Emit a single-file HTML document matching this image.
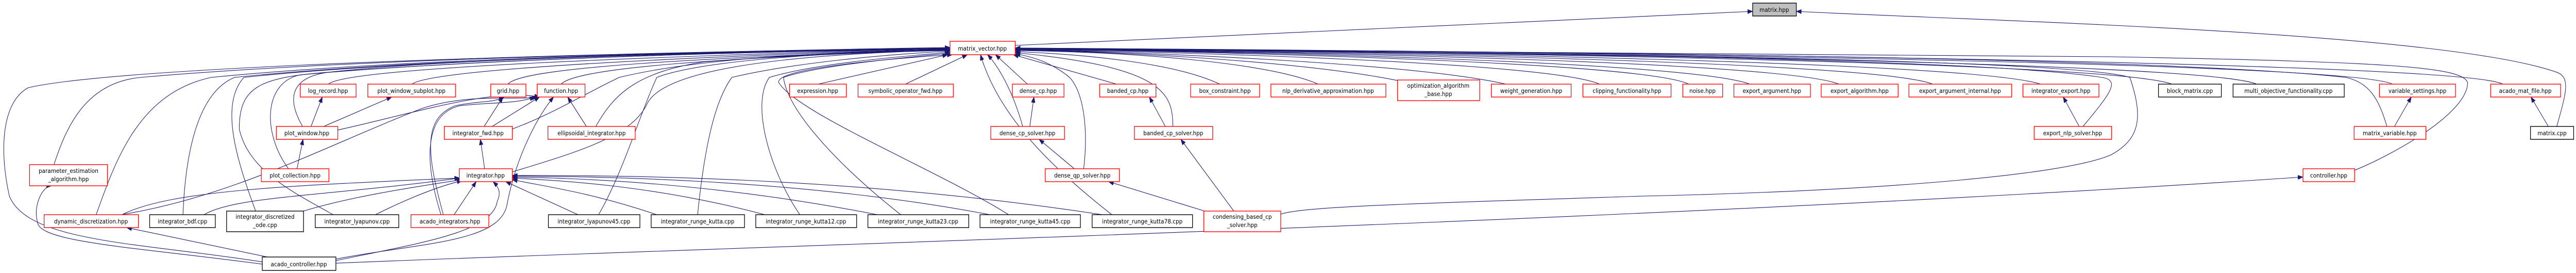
<!DOCTYPE html>
<html><head><meta charset="utf-8"><style>
html,body{margin:0;padding:0;background:#fff;overflow:hidden;width:100%;height:100%;}
svg{display:block;width:100vw;height:100vh;}
text{font-family:"DejaVu Sans","Liberation Sans",sans-serif;font-size:11.5px;fill:#000;}
.r{fill:#fff;stroke:#ff0000;stroke-width:1.4;}
.b{fill:#fff;stroke:#000;stroke-width:1.4;}
.g{fill:#bfbfbf;stroke:#000;stroke-width:1.4;}
.e{fill:none;stroke:#191970;stroke-width:1.1;}
</style></head><body>
<svg viewBox="0 0 5491 529" preserveAspectRatio="none" xmlns="http://www.w3.org/2000/svg">
<defs><marker id="a" markerWidth="12" markerHeight="9" refX="11" refY="4.5" orient="auto" markerUnits="userSpaceOnUse"><path d="M0,0 L12,4.5 L0,9 z" fill="#191970"/></marker></defs>
<g class="e" marker-end="url(#a)">
<path d="M2164,88 L3736,22"/>
<path d="M5450,245 C5470,180 5480,150 5450,140 C5200,60 4200,40 3829,22"/>
<path d="M700,163 C740,130 1400,110 2025,93"/>
<path d="M878,163 C920,135 1400,112 2025,94"/>
<path d="M1083,163 C1110,130 1500,112 2025,95"/>
<path d="M1196,163 C1230,130 1550,112 2025,96"/>
<path d="M1744,163 L2020,106"/>
<path d="M1930,163 L2062,106"/>
<path d="M2190,163 L2122,106"/>
<path d="M2380,163 L2160,106"/>
<path d="M2600,163 C2500,120 2300,105 2164,100"/>
<path d="M2810,163 C2700,120 2400,100 2164,98"/>
<path d="M3000,160 C2800,120 2400,100 2164,97"/>
<path d="M3210,163 C3000,120 2400,100 2164,96"/>
<path d="M3410,163 C3300,120 2500,100 2164,96"/>
<path d="M3600,163 C3500,120 2600,100 2164,95"/>
<path d="M3730,163 C3600,120 2700,100 2164,95"/>
<path d="M3920,163 C3800,120 2800,100 2164,95"/>
<path d="M4120,163 C4000,120 2900,100 2164,95"/>
<path d="M4350,163 C4200,120 3000,100 2164,94"/>
<path d="M4630,163 C4500,120 3100,100 2164,94"/>
<path d="M4810,163 C4700,120 3200,100 2164,94"/>
<path d="M5100,163 C5000,120 3300,100 2164,93"/>
<path d="M5335,163 C5250,120 3400,100 2164,93"/>
<path d="M645,245 C610,190 620,150 700,140 C1000,110 1600,100 2025,95"/>
<path d="M1092,250 C1180,220 1250,180 1320,150 C1500,110 1800,100 2025,96"/>
<path d="M1270,245 C1310,180 1360,140 1500,120 C1700,105 1900,100 2025,98"/>
<path d="M2180,245 C2160,180 2130,130 2105,106"/>
<path d="M2500,245 C2500,180 2480,130 2164,102"/>
<path d="M4440,245 C4500,180 4520,155 4480,150 C4200,110 3000,100 2164,95"/>
<path d="M5088,245 C5070,190 5050,160 5000,150 C4600,110 3300,100 2164,94"/>
<path d="M115,319 C140,250 180,160 300,150 C800,110 1600,100 2025,93"/>
<path d="M615,327 C560,260 560,160 640,145 C1000,115 1600,100 2025,94"/>
<path d="M1092,333 C1250,290 1350,260 1380,200 C1420,130 1700,105 2025,97"/>
<path d="M2310,327 C2320,250 2310,180 2280,150 C2240,120 2200,110 2164,104"/>
<path d="M5019,330 C5100,300 5260,220 5260,160 C5250,130 5100,120 4500,110 C3500,100 2600,96 2164,94"/>
<path d="M205,416 C250,300 300,180 450,150 C900,110 1600,100 2025,93"/>
<path d="M390,416 C395,300 420,180 500,150 C900,112 1600,100 2025,94"/>
<path d="M545,409 C500,300 470,200 520,150 C900,113 1600,100 2025,94"/>
<path d="M710,416 C620,370 530,330 510,250 C510,170 550,150 700,140 C1100,112 1600,100 2025,95"/>
<path d="M1276,416 C1330,330 1360,230 1400,150 C1500,115 1800,100 2025,97"/>
<path d="M1487,416 C1500,300 1520,200 1560,150 C1700,120 1900,105 2025,99"/>
<path d="M1705,416 C1640,330 1600,200 1640,150 C1750,120 1950,108 2025,101"/>
<path d="M1920,416 C1800,330 1680,220 1670,150 C1750,125 1950,110 2025,103"/>
<path d="M2150,416 C2000,330 1700,220 1660,160 C1650,130 1950,110 2030,106"/>
<path d="M2370,416 C2250,330 2130,230 2090,106"/>
<path d="M2730,415 C2780,400 3000,395 3500,380 C4000,370 4400,340 4500,300 C4560,270 4570,230 4540,150 C4400,110 3000,100 2164,95"/>
<path d="M663,245 L687,188"/>
<path d="M690,245 L835,188"/>
<path d="M720,252 C880,220 1050,170 1150,188"/>
<path d="M633,327 L646,270"/>
<path d="M1032,245 L1072,188"/>
<path d="M1049,245 L1150,188"/>
<path d="M1250,245 L1210,188"/>
<path d="M1033,327 L1024,270"/>
<path d="M2195,245 L2204,188"/>
<path d="M2290,327 L2215,270"/>
<path d="M2568,409 L2363,352"/>
<path d="M2630,409 L2517,270"/>
<path d="M2484,245 L2450,188"/>
<path d="M4432,245 L4398,188"/>
<path d="M5104,245 L5140,188"/>
<path d="M5432,245 L5395,188"/>
<path d="M945,416 C910,300 900,230 970,205 C1020,195 1050,200 1075,188"/>
<path d="M940,416 C900,300 910,220 980,205 C1040,198 1100,202 1140,188"/>
<path d="M968,416 L1015,352"/>
<path d="M260,416 C360,370 600,360 980,345"/>
<path d="M435,416 C500,380 700,380 980,345"/>
<path d="M647,409 C750,380 900,360 985,348"/>
<path d="M800,416 C880,380 940,360 985,350"/>
<path d="M1232,416 L1078,352"/>
<path d="M1400,416 C1250,370 1150,360 1092,348"/>
<path d="M1630,416 C1400,360 1200,350 1092,345"/>
<path d="M1870,416 C1500,350 1200,345 1092,343"/>
<path d="M2110,416 C1700,345 1250,342 1092,341"/>
<path d="M2350,416 C1800,340 1300,340 1092,340"/>
<path d="M258,416 C500,380 700,280 900,210 C1000,180 1100,195 1145,188"/>
<path d="M562,508 C300,470 60,470 20,380 C0,300 0,200 60,170 C200,140 800,110 2025,92"/>
<path d="M560,512 C300,480 80,470 80,430 C70,400 90,360 110,360"/>
<path d="M570,498 L270,441"/>
<path d="M716,505 C900,470 1050,450 1060,390 C1070,370 1060,360 1051,352"/>
<path d="M716,502 C900,470 1060,470 1080,400 C1100,300 1150,220 1180,188"/>
<path d="M716,510 C1500,480 3500,430 4909,343"/>
</g>
<g>
<rect class="g" x="3736" y="6" width="93" height="25"/><text x="3782" y="23" text-anchor="middle">matrix.hpp</text>
<rect class="r" x="2025" y="80" width="139" height="26"/><text x="2094" y="98" text-anchor="middle">matrix_vector.hpp</text>
<rect class="r" x="640" y="163" width="119" height="25"/><text x="699" y="180" text-anchor="middle">log_record.hpp</text>
<rect class="r" x="784" y="163" width="187" height="25"/><text x="877" y="180" text-anchor="middle">plot_window_subplot.hpp</text>
<rect class="r" x="1046" y="163" width="75" height="25"/><text x="1083" y="180" text-anchor="middle">grid.hpp</text>
<rect class="r" x="1145" y="163" width="102" height="25"/><text x="1196" y="180" text-anchor="middle">function.hpp</text>
<rect class="r" x="1683" y="163" width="121" height="25"/><text x="1743" y="180" text-anchor="middle">expression.hpp</text>
<rect class="r" x="1829" y="163" width="203" height="25"/><text x="1930" y="180" text-anchor="middle">symbolic_operator_fwd.hpp</text>
<rect class="r" x="2158" y="163" width="110" height="25"/><text x="2213" y="180" text-anchor="middle">dense_cp.hpp</text>
<rect class="r" x="2344" y="163" width="120" height="25"/><text x="2404" y="180" text-anchor="middle">banded_cp.hpp</text>
<rect class="r" x="2538" y="163" width="147" height="25"/><text x="2611" y="180" text-anchor="middle">box_constraint.hpp</text>
<rect class="r" x="2709" y="163" width="245" height="25"/><text x="2831" y="180" text-anchor="middle">nlp_derivative_approximation.hpp</text>
<rect class="r" x="2979" y="155" width="175" height="40"/><text x="3066" y="170" text-anchor="middle">optimization_algorithm</text><text x="3066" y="186" text-anchor="middle">_base.hpp</text>
<rect class="r" x="3179" y="163" width="170" height="25"/><text x="3264" y="180" text-anchor="middle">weight_generation.hpp</text>
<rect class="r" x="3374" y="163" width="188" height="25"/><text x="3468" y="180" text-anchor="middle">clipping_functionality.hpp</text>
<rect class="r" x="3587" y="163" width="85" height="25"/><text x="3629" y="180" text-anchor="middle">noise.hpp</text>
<rect class="r" x="3696" y="163" width="163" height="25"/><text x="3777" y="180" text-anchor="middle">export_argument.hpp</text>
<rect class="r" x="3882" y="163" width="164" height="25"/><text x="3964" y="180" text-anchor="middle">export_algorithm.hpp</text>
<rect class="r" x="4069" y="163" width="219" height="25"/><text x="4178" y="180" text-anchor="middle">export_argument_internal.hpp</text>
<rect class="r" x="4312" y="163" width="162" height="25"/><text x="4393" y="180" text-anchor="middle">integrator_export.hpp</text>
<rect class="b" x="4601" y="163" width="134" height="25"/><text x="4668" y="180" text-anchor="middle">block_matrix.cpp</text>
<rect class="b" x="4760" y="163" width="237" height="25"/><text x="4878" y="180" text-anchor="middle">multi_objective_functionality.cpp</text>
<rect class="r" x="5072" y="163" width="162" height="25"/><text x="5153" y="180" text-anchor="middle">variable_settings.hpp</text>
<rect class="r" x="5309" y="163" width="149" height="25"/><text x="5383" y="180" text-anchor="middle">acado_mat_file.hpp</text>
<rect class="r" x="589" y="245" width="131" height="25"/><text x="654" y="262" text-anchor="middle">plot_window.hpp</text>
<rect class="r" x="947" y="245" width="145" height="25"/><text x="1019" y="262" text-anchor="middle">integrator_fwd.hpp</text>
<rect class="r" x="1168" y="245" width="186" height="25"/><text x="1261" y="262" text-anchor="middle">ellipsoidal_integrator.hpp</text>
<rect class="r" x="2112" y="245" width="157" height="25"/><text x="2190" y="262" text-anchor="middle">dense_cp_solver.hpp</text>
<rect class="r" x="2418" y="245" width="167" height="25"/><text x="2501" y="262" text-anchor="middle">banded_cp_solver.hpp</text>
<rect class="r" x="4336" y="245" width="165" height="25"/><text x="4418" y="262" text-anchor="middle">export_nlp_solver.hpp</text>
<rect class="r" x="5018" y="245" width="153" height="25"/><text x="5094" y="262" text-anchor="middle">matrix_variable.hpp</text>
<rect class="b" x="5394" y="245" width="92" height="25"/><text x="5440" y="262" text-anchor="middle">matrix.cpp</text>
<rect class="r" x="63" y="319" width="166" height="41"/><text x="146" y="335" text-anchor="middle">parameter_estimation</text><text x="146" y="351" text-anchor="middle">_algorithm.hpp</text>
<rect class="r" x="557" y="327" width="144" height="25"/><text x="629" y="344" text-anchor="middle">plot_collection.hpp</text>
<rect class="r" x="979" y="327" width="113" height="25"/><text x="1035" y="344" text-anchor="middle">integrator.hpp</text>
<rect class="r" x="2228" y="327" width="158" height="25"/><text x="2307" y="344" text-anchor="middle">dense_qp_solver.hpp</text>
<rect class="r" x="4909" y="327" width="110" height="25"/><text x="4964" y="344" text-anchor="middle">controller.hpp</text>
<rect class="r" x="94" y="416" width="201" height="25"/><text x="194" y="433" text-anchor="middle">dynamic_discretization.hpp</text>
<rect class="b" x="319" y="416" width="140" height="25"/><text x="389" y="433" text-anchor="middle">integrator_bdf.cpp</text>
<rect class="b" x="483" y="409" width="164" height="40"/><text x="565" y="424" text-anchor="middle">integrator_discretized</text><text x="565" y="440" text-anchor="middle">_ode.cpp</text>
<rect class="b" x="672" y="416" width="178" height="25"/><text x="761" y="433" text-anchor="middle">integrator_lyapunov.cpp</text>
<rect class="r" x="876" y="416" width="166" height="25"/><text x="959" y="433" text-anchor="middle">acado_integrators.hpp</text>
<rect class="b" x="1169" y="416" width="195" height="25"/><text x="1266" y="433" text-anchor="middle">integrator_lyapunov45.cpp</text>
<rect class="b" x="1388" y="416" width="199" height="25"/><text x="1487" y="433" text-anchor="middle">integrator_runge_kutta.cpp</text>
<rect class="b" x="1611" y="416" width="215" height="25"/><text x="1718" y="433" text-anchor="middle">integrator_runge_kutta12.cpp</text>
<rect class="b" x="1850" y="416" width="215" height="25"/><text x="1957" y="433" text-anchor="middle">integrator_runge_kutta23.cpp</text>
<rect class="b" x="2089" y="416" width="214" height="25"/><text x="2196" y="433" text-anchor="middle">integrator_runge_kutta45.cpp</text>
<rect class="b" x="2328" y="416" width="214" height="25"/><text x="2435" y="433" text-anchor="middle">integrator_runge_kutta78.cpp</text>
<rect class="r" x="2566" y="409" width="164" height="40"/><text x="2648" y="424" text-anchor="middle">condensing_based_cp</text><text x="2648" y="440" text-anchor="middle">_solver.hpp</text>
<rect class="b" x="559" y="498" width="157" height="26"/><text x="637" y="516" text-anchor="middle">acado_controller.hpp</text>
</g>
</svg>
</body></html>
